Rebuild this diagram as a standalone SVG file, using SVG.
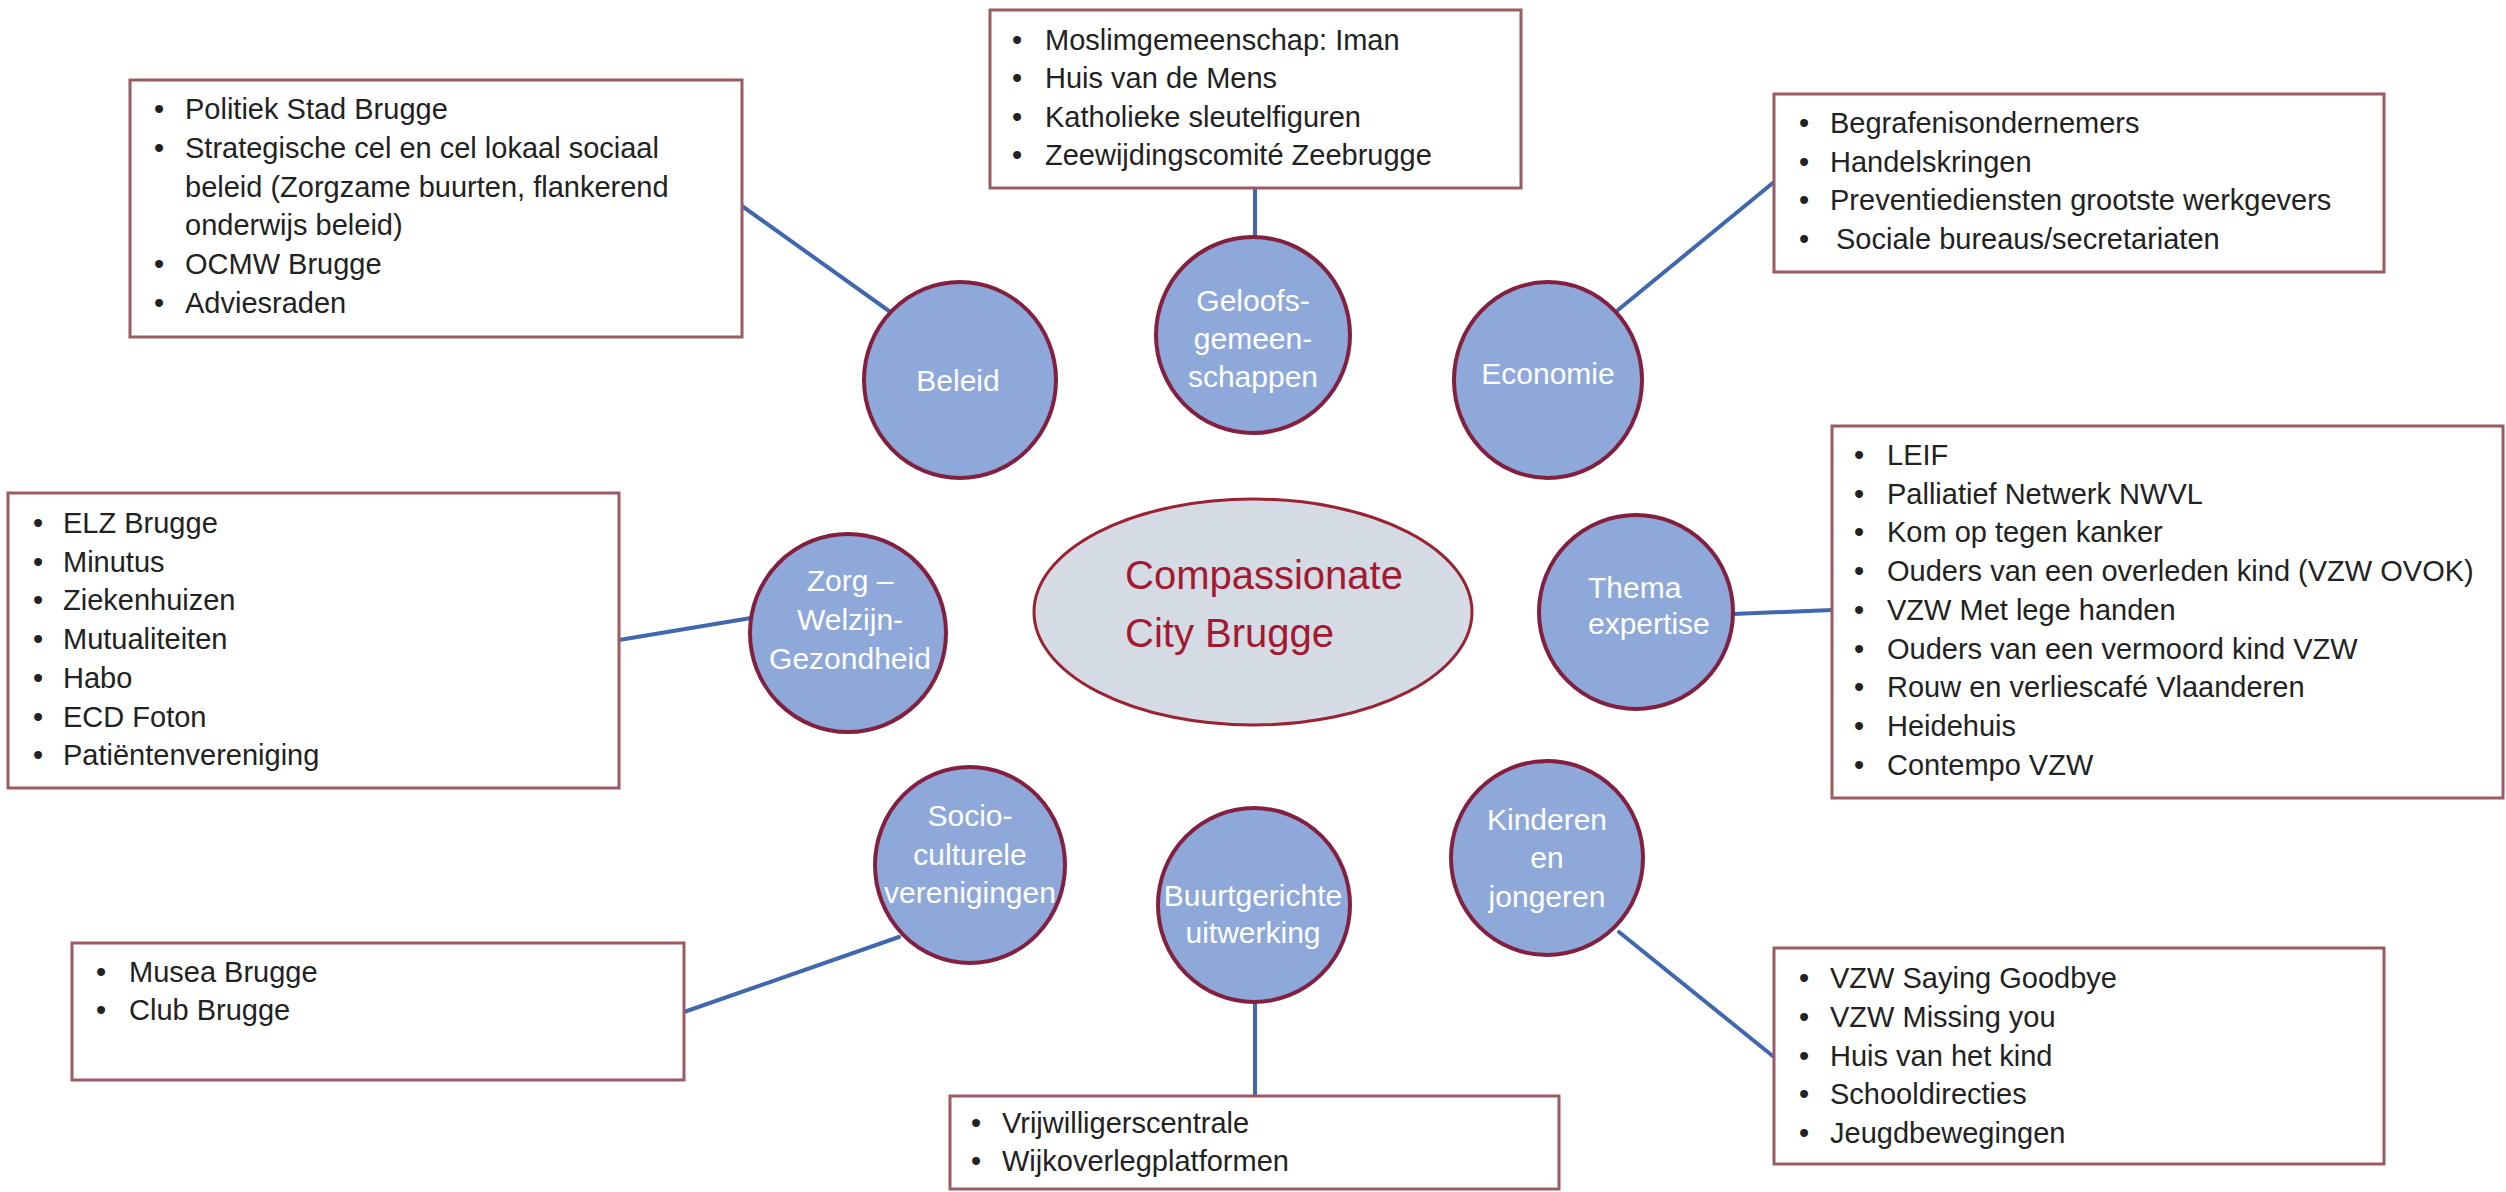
<svg xmlns="http://www.w3.org/2000/svg" width="2506" height="1192" viewBox="0 0 2506 1192">
  <style>
    .box{fill:#ffffff;stroke:#9b5b62;stroke-width:3}
    .node{fill:#8ea8da;stroke:#84203f;stroke-width:4}
    .hub{fill:#d5dbe5;stroke:#9a2233;stroke-width:3}
    .link{stroke:#4168ae;stroke-width:4;fill:none;stroke-linecap:round}
    .item{font-family:"Liberation Sans",Arial,sans-serif;font-size:29px;fill:#222222}
    .lbl{font-family:"Liberation Sans",Arial,sans-serif;font-size:30px;fill:#ffffff;text-anchor:middle}
    .lbl-left{text-anchor:start}
    .hubtxt{font-family:"Liberation Sans",Arial,sans-serif;font-size:40px;fill:#a3192f}
  </style>

  <rect width="2506" height="1192" fill="#ffffff"/>

  <!-- connectors between themes and their partner lists -->
  <g id="connectors">
    <line class="link" x1="742" y1="206" x2="889" y2="311"/>
    <line class="link" x1="1255" y1="188" x2="1255" y2="238"/>
    <line class="link" x1="1618" y1="310" x2="1774" y2="182"/>
    <line class="link" x1="619" y1="640" x2="751" y2="618"/>
    <line class="link" x1="1733" y1="614" x2="1832" y2="610"/>
    <line class="link" x1="684" y1="1012" x2="899" y2="937"/>
    <line class="link" x1="1255" y1="1003" x2="1255" y2="1096"/>
    <line class="link" x1="1619" y1="932" x2="1774" y2="1057"/>
  </g>

  <!-- central hub -->
  <g id="hub">
    <ellipse class="hub" cx="1253" cy="612" rx="219" ry="113"/>
    <text class="hubtxt" x="1125" y="589">Compassionate</text>
    <text class="hubtxt" x="1125" y="647">City Brugge</text>
  </g>

  <!-- theme circles -->
  <g id="node-beleid">
    <ellipse class="node" cx="960" cy="380" rx="96" ry="98"/>
    <text class="lbl" x="958" y="391">Beleid</text>
  </g>
  <g id="node-geloof">
    <ellipse class="node" cx="1253" cy="335" rx="97" ry="98"/>
    <text class="lbl" x="1253" y="311">Geloofs-</text>
    <text class="lbl" x="1253" y="349">gemeen-</text>
    <text class="lbl" x="1253" y="387">schappen</text>
  </g>
  <g id="node-economie">
    <ellipse class="node" cx="1548" cy="380" rx="94" ry="98"/>
    <text class="lbl" x="1548" y="384">Economie</text>
  </g>
  <g id="node-zorg">
    <ellipse class="node" cx="848" cy="633" rx="98" ry="99"/>
    <text class="lbl" x="850" y="591">Zorg –</text>
    <text class="lbl" x="850" y="630">Welzijn-</text>
    <text class="lbl" x="850" y="669">Gezondheid</text>
  </g>
  <g id="node-thema">
    <ellipse class="node" cx="1636" cy="612" rx="97" ry="97"/>
    <text class="lbl lbl-left" x="1588" y="598">Thema</text>
    <text class="lbl lbl-left" x="1588" y="634">expertise</text>
  </g>
  <g id="node-socio">
    <ellipse class="node" cx="970" cy="865" rx="95" ry="98"/>
    <text class="lbl" x="970" y="826">Socio-</text>
    <text class="lbl" x="970" y="865">culturele</text>
    <text class="lbl" x="970" y="903">verenigingen</text>
  </g>
  <g id="node-buurt">
    <ellipse class="node" cx="1254" cy="905" rx="96" ry="97"/>
    <text class="lbl" x="1253" y="906">Buurtgerichte</text>
    <text class="lbl" x="1253" y="943">uitwerking</text>
  </g>
  <g id="node-kinderen">
    <ellipse class="node" cx="1547" cy="858" rx="96" ry="97"/>
    <text class="lbl" x="1547" y="830">Kinderen</text>
    <text class="lbl" x="1547" y="868">en</text>
    <text class="lbl" x="1547" y="907">jongeren</text>
  </g>

  <!-- partner lists -->
  <g id="list-beleid">
    <rect class="box" x="130" y="80" width="612" height="257"/>
    <g class="item">
      <text x="154" y="119">•</text><text x="185" y="119">Politiek Stad Brugge</text>
      <text x="154" y="158">•</text><text x="185" y="158">Strategische cel en cel lokaal sociaal</text>
      <text x="185" y="197">beleid (Zorgzame buurten, flankerend</text>
      <text x="185" y="235">onderwijs beleid)</text>
      <text x="154" y="274">•</text><text x="185" y="274">OCMW Brugge</text>
      <text x="154" y="313">•</text><text x="185" y="313">Adviesraden</text>
    </g>
  </g>
  <g id="list-geloof">
    <rect class="box" x="990" y="10" width="531" height="178"/>
    <g class="item">
      <text x="1012" y="50">•</text><text x="1045" y="50">Moslimgemeenschap: Iman</text>
      <text x="1012" y="88">•</text><text x="1045" y="88">Huis van de Mens</text>
      <text x="1012" y="127">•</text><text x="1045" y="127">Katholieke sleutelfiguren</text>
      <text x="1012" y="165">•</text><text x="1045" y="165">Zeewijdingscomité Zeebrugge</text>
    </g>
  </g>
  <g id="list-economie">
    <rect class="box" x="1774" y="94" width="610" height="178"/>
    <g class="item">
      <text x="1799" y="133">•</text><text x="1830" y="133">Begrafenisondernemers</text>
      <text x="1799" y="172">•</text><text x="1830" y="172">Handelskringen</text>
      <text x="1799" y="210">•</text><text x="1830" y="210">Preventiediensten grootste werkgevers</text>
      <text x="1799" y="249">•</text><text x="1836" y="249">Sociale bureaus/secretariaten</text>
    </g>
  </g>
  <g id="list-zorg">
    <rect class="box" x="8" y="493" width="611" height="295"/>
    <g class="item">
      <text x="33" y="533">•</text><text x="63" y="533">ELZ Brugge</text>
      <text x="33" y="572">•</text><text x="63" y="572">Minutus</text>
      <text x="33" y="610">•</text><text x="63" y="610">Ziekenhuizen</text>
      <text x="33" y="649">•</text><text x="63" y="649">Mutualiteiten</text>
      <text x="33" y="688">•</text><text x="63" y="688">Habo</text>
      <text x="33" y="727">•</text><text x="63" y="727">ECD Foton</text>
      <text x="33" y="765">•</text><text x="63" y="765">Patiëntenvereniging</text>
    </g>
  </g>
  <g id="list-thema">
    <rect class="box" x="1832" y="426" width="671" height="372"/>
    <g class="item">
      <text x="1854" y="465">•</text><text x="1887" y="465">LEIF</text>
      <text x="1854" y="504">•</text><text x="1887" y="504">Palliatief Netwerk NWVL</text>
      <text x="1854" y="542">•</text><text x="1887" y="542">Kom op tegen kanker</text>
      <text x="1854" y="581">•</text><text x="1887" y="581">Ouders van een overleden kind (VZW OVOK)</text>
      <text x="1854" y="620">•</text><text x="1887" y="620">VZW Met lege handen</text>
      <text x="1854" y="659">•</text><text x="1887" y="659">Ouders van een vermoord kind VZW</text>
      <text x="1854" y="697">•</text><text x="1887" y="697">Rouw en verliescafé Vlaanderen</text>
      <text x="1854" y="736">•</text><text x="1887" y="736">Heidehuis</text>
      <text x="1854" y="775">•</text><text x="1887" y="775">Contempo VZW</text>
    </g>
  </g>
  <g id="list-socio">
    <rect class="box" x="72" y="943" width="612" height="137"/>
    <g class="item">
      <text x="96" y="982">•</text><text x="129" y="982">Musea Brugge</text>
      <text x="96" y="1020">•</text><text x="129" y="1020">Club Brugge</text>
    </g>
  </g>
  <g id="list-buurt">
    <rect class="box" x="950" y="1096" width="609" height="93"/>
    <g class="item">
      <text x="971" y="1133">•</text><text x="1002" y="1133">Vrijwilligerscentrale</text>
      <text x="971" y="1171">•</text><text x="1002" y="1171">Wijkoverlegplatformen</text>
    </g>
  </g>
  <g id="list-kinderen">
    <rect class="box" x="1774" y="948" width="610" height="216"/>
    <g class="item">
      <text x="1799" y="988">•</text><text x="1830" y="988">VZW Saying Goodbye</text>
      <text x="1799" y="1027">•</text><text x="1830" y="1027">VZW Missing you</text>
      <text x="1799" y="1066">•</text><text x="1830" y="1066">Huis van het kind</text>
      <text x="1799" y="1104">•</text><text x="1830" y="1104">Schooldirecties</text>
      <text x="1799" y="1143">•</text><text x="1830" y="1143">Jeugdbewegingen</text>
    </g>
  </g>
</svg>
